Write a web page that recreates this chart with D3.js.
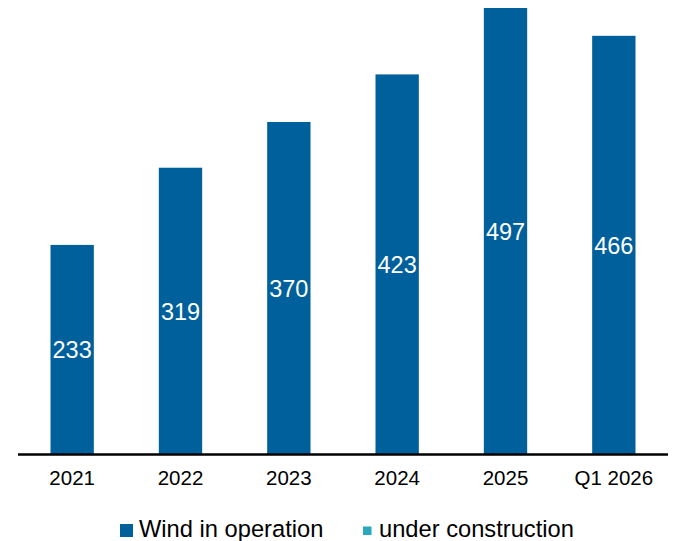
<!DOCTYPE html>
<html>
<head>
<meta charset="utf-8">
<script src="https://cdn.jsdelivr.net/npm/d3@7"></script>
<style>
  html, body { margin: 0; padding: 0; background: #fff; }
  svg { display: block; font-family: "Liberation Sans", Arial, sans-serif; }
</style>
</head>
<body>
<svg id="chart" width="673" height="541"></svg>
<script>
// Installed wind capacity by period
const categories = ["2021", "2022", "2023", "2024", "2025", "Q1 2026"];
const windInOperation = [233, 319, 370, 423, 497, 466];
const legendLabels = ["Wind in operation", "under construction"];

const colorOperation = "#00609c";
const colorConstruction = "#2aa7ba";

const svg = d3.select("#chart");

const x = d3.scaleBand()
  .domain(categories)
  .range([18, 668])
  .paddingInner(0.6)
  .paddingOuter(0.3);

const y = d3.scaleLinear()
  .domain([0, 497])
  .range([454, 8]);

// Bars
svg.append("g")
  .selectAll("rect")
  .data(windInOperation)
  .join("rect")
  .attr("x", (d, i) => x(categories[i]))
  .attr("y", d => y(d))
  .attr("width", x.bandwidth())
  .attr("height", d => y(0) - y(d))
  .attr("fill", colorOperation);

// Value labels, centred inside each bar
svg.append("g")
  .selectAll("text")
  .data(windInOperation)
  .join("text")
  .attr("x", (d, i) => x(categories[i]) + x.bandwidth() / 2)
  .attr("y", d => (y(d) + y(0)) / 2 + 9)
  .attr("text-anchor", "middle")
  .attr("fill", "#fff")
  .attr("font-size", "23.5px")
  .text(d => d);

// Category axis
const axis = svg.append("g")
  .attr("transform", `translate(0,${y(0)})`)
  .call(d3.axisBottom(x).tickSize(0).tickPadding(16));
axis.select(".domain")
  .attr("d", "M18,0.5H668")
  .attr("stroke", "#000")
  .attr("stroke-width", 2.5);
axis.selectAll(".tick text")
  .attr("font-family", "Liberation Sans, Arial, sans-serif")
  .attr("font-size", "20.5px")
  .attr("fill", "#000");

// Legend
const legend = svg.append("g");
legend.append("rect")
  .attr("x", 120).attr("y", 524)
  .attr("width", 13).attr("height", 13)
  .attr("fill", colorOperation);
legend.append("text")
  .attr("x", 139).attr("y", 537)
  .attr("font-size", "23.7px")
  .attr("fill", "#000")
  .text(legendLabels[0]);
legend.append("rect")
  .attr("x", 363).attr("y", 526.5)
  .attr("width", 8.5).attr("height", 8.5)
  .attr("fill", colorConstruction);
legend.append("text")
  .attr("x", 379).attr("y", 537)
  .attr("font-size", "23.7px")
  .attr("fill", "#000")
  .text(legendLabels[1]);
</script>
</body>
</html>
